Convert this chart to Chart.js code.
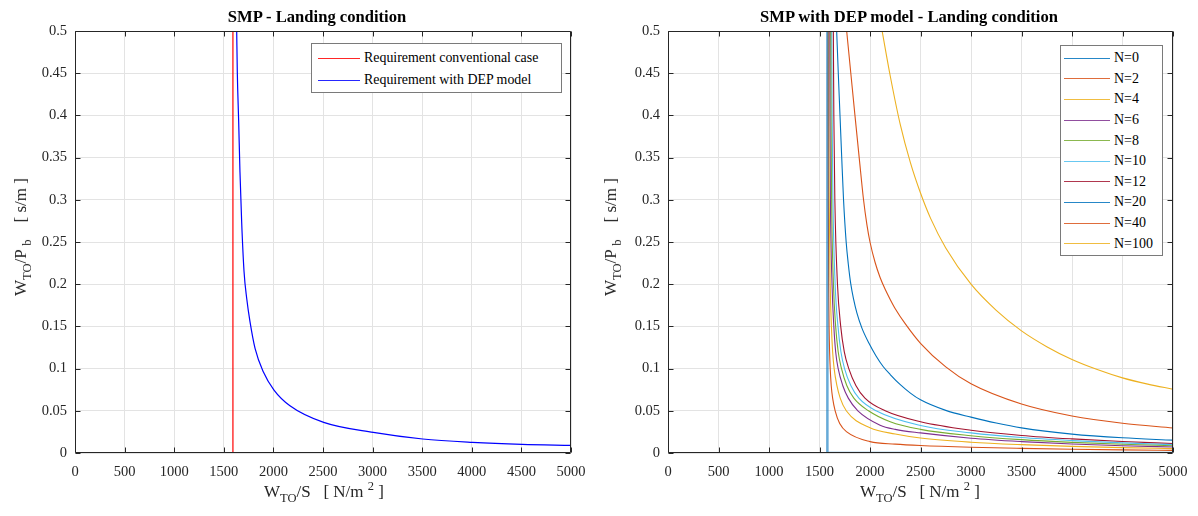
<!DOCTYPE html>
<html><head><meta charset="utf-8">
<script src="https://cdn.jsdelivr.net/npm/chart.js@4.4.1/dist/chart.umd.min.js"></script>
<style>
html,body{margin:0;padding:0;background:#fff;}
#wrap{position:relative;width:1198px;height:516px;overflow:hidden;background:#fff;font-family:"Liberation Serif","Times New Roman",serif;color:#262626;}
canvas{position:absolute;top:0;}
.title{position:absolute;font-weight:bold;font-size:16.6px;color:#000;white-space:nowrap;transform:translateX(-50%);top:7px;}
.xl{position:absolute;font-size:17px;white-space:nowrap;transform:translateX(-50%);top:479px;color:#262626;}
.yl{position:absolute;font-size:17px;white-space:nowrap;transform:translate(-50%,-50%) rotate(-90deg);color:#262626;}
.xl sub,.yl sub{font-size:12.5px;vertical-align:-5px;}
.xl sup{font-size:12.5px;vertical-align:7px;}
.legend{position:absolute;background:#fff;border:1px solid #7a7a7a;color:#000;box-sizing:border-box;}
.legend .row{display:flex;align-items:center;white-space:nowrap;}
.legend .ln{display:inline-block;height:1px;margin-right:4px;}
</style></head>
<body><div id="wrap">
<canvas id="c1" width="600" height="516" style="left:0"></canvas>
<canvas id="c2" width="598" height="516" style="left:600px"></canvas>
<div class="title" style="left:317px">SMP - Landing condition</div>
<div class="title" style="left:909px">SMP with DEP model - Landing condition</div>
<div class="xl" style="left:324px">W<sub>TO</sub>/S &nbsp;&nbsp;[ N/m <sup>2</sup> ]</div>
<div class="xl" style="left:920px">W<sub>TO</sub>/S &nbsp;&nbsp;[ N/m <sup>2</sup> ]</div>
<div class="yl" style="left:23px;top:237px">W<sub>TO</sub>/P <sub>b</sub> &nbsp;&nbsp;&nbsp;[ s/m ]</div>
<div class="yl" style="left:613px;top:237px">W<sub>TO</sub>/P <sub>b</sub> &nbsp;&nbsp;&nbsp;[ s/m ]</div>
<div id="leg1" class="legend" style="left:311px;top:43px;width:251px;height:50px;padding:3px 0 3px 6px;font-size:13.9px"></div>
<div id="leg2" class="legend" style="left:1060px;top:45px;width:103px;height:211px;padding:2px 0 2px 3px;font-size:14px"></div>
</div>
<script>
// ---------- DATA ----------
const xTicks = [0,500,1000,1500,2000,2500,3000,3500,4000,4500,5000];
const yTicks = [0,0.05,0.1,0.15,0.2,0.25,0.3,0.35,0.4,0.45,0.5];

// Left chart
const convX = [1592, 1592];
const convY = [0, 0.5];
const depX = [1630,1636,1650,1663,1680,1704,1731,1764,1815,1898,2006,2167,2507,3007,3505,4005,4506,5000];
const depY = [0.5,0.452,0.3925,0.333,0.274,0.215,0.183,0.1556,0.124,0.0963,0.0746,0.056,0.0363,0.0244,0.0166,0.0126,0.0102,0.009];

// Right chart
const n0X = [1578,1578,5000];
const n0Y = [0.5,0,0];
const n2X = [1584,1585,1587,1591,1595,1600,1606,1616,1630,1655,1700,1770,2000,2250,2500,3000,3500,4000,4500,5000];
const n2Y = [0.5,0.4,0.3,0.2,0.15,0.12,0.1,0.08,0.065,0.05,0.035,0.025,0.0135,0.0105,0.0088,0.0068,0.0055,0.0045,0.0037,0.0031];
const n4X = [1591,1592,1596,1606,1618,1630,1645,1672,1705,1765,2000,2250,2500,3000,3500,4000,4500,5000];
const n4Y = [0.5,0.4,0.3,0.2,0.15,0.12,0.1,0.08,0.065,0.05,0.03,0.0225,0.0178,0.0128,0.0099,0.0079,0.0064,0.0052];
const n6X = [1601,1603,1608,1624,1642,1660,1685,1730,1785,1880,2100,2250,2500,3000,3500,4000,4500,5000];
const n6Y = [0.5,0.4,0.3,0.2,0.15,0.12,0.1,0.08,0.065,0.05,0.033,0.028,0.0238,0.0175,0.0135,0.0106,0.0086,0.0071];
const n8X = [1611,1614,1620,1638,1660,1685,1718,1770,1840,1985,2200,2500,3000,3500,4000,4500,5000];
const n8Y = [0.5,0.4,0.3,0.2,0.15,0.12,0.1,0.08,0.065,0.05,0.037,0.028,0.0205,0.0158,0.0126,0.0103,0.0086];
const n10X = [1621,1625,1633,1655,1683,1712,1748,1810,1890,2060,2500,3000,3500,4000,4500,5000];
const n10Y = [0.5,0.4,0.3,0.2,0.15,0.12,0.1,0.08,0.065,0.05,0.0325,0.0238,0.0183,0.0147,0.012,0.0099];
const n12X = [1637,1642,1652,1678,1710,1745,1790,1860,1950,2150,2500,3000,3500,4000,4500,5000];
const n12Y = [0.5,0.4,0.3,0.2,0.15,0.12,0.1,0.08,0.065,0.05,0.037,0.027,0.0208,0.0167,0.0136,0.0113];
const n20X = [1670,1686,1703,1720,1738,1764,1785,1810,1838,1870,1920,1990,2060,2130,2200,2300,2400,2500,2750,3000,3250,3500,4000,4500,5000];
const n20Y = [0.5,0.45,0.4,0.35,0.3,0.25,0.224,0.2,0.182,0.166,0.148,0.13,0.115,0.1025,0.093,0.081,0.071,0.063,0.0505,0.0425,0.0355,0.0298,0.0224,0.018,0.0152];
const n40X = [1769,1810,1851,1893,1936,1970,2000,2050,2100,2150,2200,2250,2350,2500,2750,3000,3500,4000,4500,5000];
const n40Y = [0.5,0.45,0.4,0.35,0.3,0.27,0.25,0.226,0.208,0.194,0.182,0.171,0.153,0.13,0.102,0.082,0.058,0.0438,0.0352,0.0297];
const n100X = [2120,2200,2300,2400,2500,2600,2750,3000,3250,3500,3750,4000,4250,4500,4750,5000];
const n100Y = [0.5,0.447,0.389,0.344,0.308,0.278,0.243,0.2,0.169,0.1447,0.126,0.1108,0.0989,0.089,0.0816,0.0756];

const seriesLabels = ['N=0','N=2','N=4','N=6','N=8','N=10','N=12','N=20','N=40','N=100'];
const seriesColors = ['#0072BD','#D95319','#EDB120','#7E2F8E','#77AC30','#4DBEEE','#A2142F','#0072BD','#D95319','#EDB120'];

// ---------- BUILD ----------
const pts = (xs, ys) => xs.map((x, i) => ({x, y: ys[i]}));
const FONT = '"Liberation Serif","Times New Roman",serif';

const boxPlugin = {
  id: 'box',
  afterDraw(chart) {
    const {ctx, chartArea: a, scales: {x, y}} = chart;
    ctx.save();
    ctx.strokeStyle = '#262626';
    ctx.lineWidth = 1;
    const L = Math.round(a.left) + 0.5, R = Math.round(a.right) - 0.5;
    const T = Math.round(a.top) + 0.5, B = Math.round(a.bottom) - 0.5;
    ctx.beginPath();
    ctx.rect(L, T, R - L, B - T);
    const tl = 5;
    x.ticks.forEach(t => {
      const p = Math.round(x.getPixelForValue(t.value)) + 0.5;
      ctx.moveTo(p, B); ctx.lineTo(p, B - tl);
      ctx.moveTo(p, T); ctx.lineTo(p, T + tl);
    });
    y.ticks.forEach(t => {
      const p = Math.round(y.getPixelForValue(t.value)) + 0.5;
      ctx.moveTo(L, p); ctx.lineTo(L + tl, p);
      ctx.moveTo(R, p); ctx.lineTo(R - tl, p);
    });
    ctx.stroke();
    ctx.restore();
  }
};

function makeOptions(yWidth, padRight) {
  return {
    responsive: false, animation: false,
    layout: {padding: {top: 31, right: padRight, left: 0, bottom: 0}},
    plugins: {legend: {display: false}, title: {display: false}, tooltip: {enabled: false}},
    elements: {point: {radius: 0}},
    scales: {
      x: {
        type: 'linear', min: 0, max: 5000,
        afterBuildTicks: s => { s.ticks = xTicks.map(v => ({value: v})); },
        afterFit: s => { s.height = 63; },
        grid: {color: '#e3e3e3', drawTicks: false},
        border: {display: false},
        ticks: {padding: 10, color: '#262626', font: {family: FONT, size: 14.5}, maxRotation: 0, callback: v => String(v)}
      },
      y: {
        type: 'linear', min: 0, max: 0.5,
        afterBuildTicks: s => { s.ticks = yTicks.map(v => ({value: v})); },
        afterFit: s => { s.width = yWidth; },
        grid: {color: '#e3e3e3', drawTicks: false},
        border: {display: false},
        ticks: {padding: 8, color: '#262626', font: {family: FONT, size: 14.5}, callback: v => String(parseFloat(v.toFixed(2)))}
      }
    }
  };
}

const leftColors = ['#FF0000', '#0000FF'];
const c1 = new Chart(document.getElementById('c1'), {
  type: 'line',
  data: {datasets: [
    {label: 'Requirement conventional case', data: pts(convX, convY), borderColor: leftColors[0], borderWidth: 1.2, tension: 0},
    {label: 'Requirement with DEP model', data: pts(depX, depY), borderColor: leftColors[1], borderWidth: 1.2, cubicInterpolationMode: 'monotone'}
  ]},
  options: makeOptions(75, 29),
  plugins: [boxPlugin]
});

const ys2 = [n0Y,n2Y,n4Y,n6Y,n8Y,n10Y,n12Y,n20Y,n40Y,n100Y];
const xs2 = [n0X,n2X,n4X,n6X,n8X,n10X,n12X,n20X,n40X,n100X];
const ds2 = seriesLabels.map((lab, i) => ({
  label: lab,
  data: pts(xs2[i], ys2[i]),
  borderColor: i === 0 ? 'rgba(0,114,189,0.6)' : seriesColors[i],
  borderWidth: i === 0 ? 2.5 : 1.1,
  tension: 0,
  cubicInterpolationMode: i === 0 ? 'default' : 'monotone'
}));
const c2 = new Chart(document.getElementById('c2'), {
  type: 'line',
  data: {datasets: ds2},
  options: makeOptions(68, 25),
  plugins: [boxPlugin]
});

function buildLegend(el, labels, colors, lineW, rowH) {
  labels.forEach((lab, i) => {
    const row = document.createElement('div'); row.className = 'row'; row.style.height = rowH + 'px';
    const ln = document.createElement('span'); ln.className = 'ln';
    ln.style.width = lineW + 'px'; ln.style.background = colors[i]; ln.style.opacity = '0.85';
    const tx = document.createElement('span'); tx.textContent = lab;
    row.appendChild(ln); row.appendChild(tx); el.appendChild(row);
  });
}
buildLegend(document.getElementById('leg1'), c1.data.datasets.map(d => d.label), leftColors, 42, 22);
buildLegend(document.getElementById('leg2'), seriesLabels, seriesColors, 46, 20.6);
</script>
</body></html>
